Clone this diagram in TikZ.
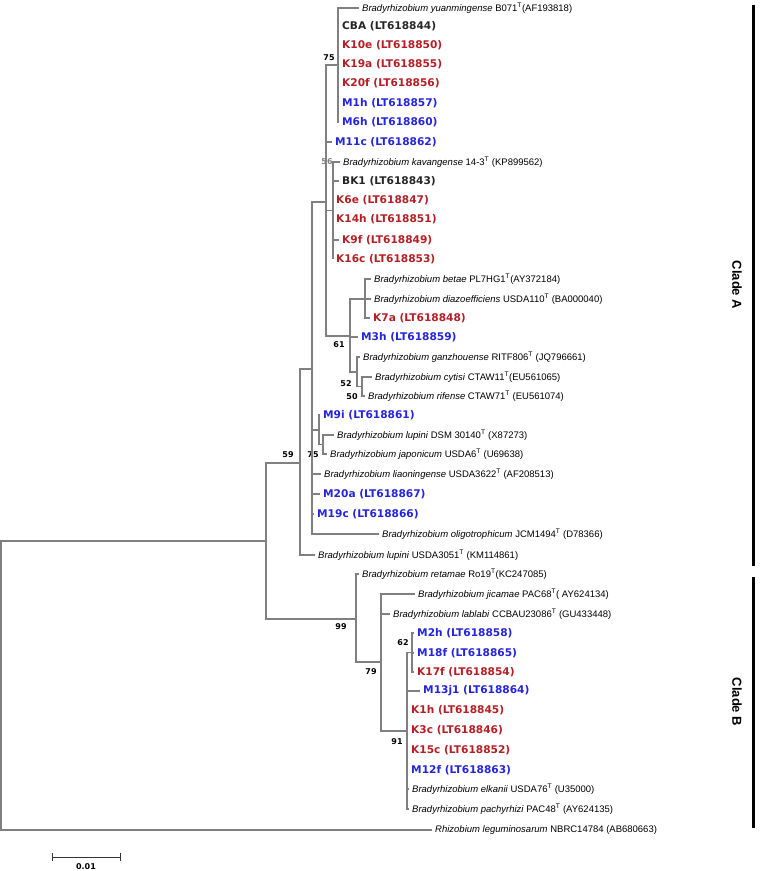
\documentclass[tikz,border=0pt]{standalone}
\usepackage{fontspec}
\setmainfont{Liberation Sans}
\newfontfamily\cepafont{DejaVu Sans}
\usepackage{tikz}
\usetikzlibrary{positioning}
\usepackage{xcolor}
\definecolor{rojo}{RGB}{182,30,36}
\definecolor{azul}{RGB}{36,36,222}
\definecolor{gris}{RGB}{128,128,128}

\begin{document}
\begin{tikzpicture}[x=1pt, y=-1pt,
		every node/.style={text=black, inner xsep=3pt, inner ysep=1pt},
		hoja/.style={anchor=west, font=\fontsize{9.5}{10}\selectfont},
		cepa/.style={anchor=west, font=\cepafont\bfseries\fontsize{10.6}{11}\selectfont},
		cepaR/.style={cepa, text=rojo},
		cepaA/.style={cepa, text=azul},
		cepaN/.style={cepa, text=black!85},
		boot/.style={font=\cepafont\bfseries\fontsize{8}{9}\selectfont, inner sep=0pt},
		rama/.style={draw=gris, line width=1.3pt},
		clado/.style={draw=black, line width=3pt}
		]
		\useasboundingbox (0,0) rectangle (777,871);
		
		% Nodos internos
		\coordinate (raiz) at (1,685.5);
		\coordinate (ing) at (266,541);
		\coordinate (n59) at (300,463);
		\coordinate (nbig) at (312,369);
		\coordinate (nx) at (326,202);
		\coordinate (n75) at (338,65);
		\coordinate (n56) at (333,210.5);
		\coordinate (n61) at (350,336);
		\coordinate (nbet) at (365,299);
		\coordinate (n52) at (357,372);
		\coordinate (n50) at (362,386.5);
		\coordinate (nm9i) at (319,430);
		\coordinate (n75b) at (323,444.5);
		\coordinate (n99) at (356,619);
		\coordinate (n79) at (381,662);
		\coordinate (n91) at (407,731);
		\coordinate (n62) at (412,652.5);
		
		% Hojas del clado A
		\node[hoja] (yuan) at (359,8) {\textit{Bradyrhizobium yuanmingense} B071\textsuperscript{T}(AF193818)};
		\node[cepaN] (cba) at (339,26) {CBA (LT618844)};
		\node[cepaR] (k10e) at (339,45) {K10e (LT618850)};
		\node[cepaR] (k19a) at (339,64) {K19a (LT618855)};
		\node[cepaR] (k20f) at (339,83) {K20f (LT618856)};
		\node[cepaA] (m1h) at (339,103) {M1h (LT618857)};
		\node[cepaA] (m6h) at (339,122) {M6h (LT618860)};
		\node[cepaA] (m11c) at (332,142) {M11c (LT618862)};
		\node[hoja] (kav) at (340,162) {\textit{Bradyrhizobium kavangense} 14-3\textsuperscript{T} (KP899562)};
		\node[cepaN] (bk1) at (339,181) {BK1 (LT618843)};
		\node[cepaR] (k6e) at (333,200) {K6e (LT618847)};
		\node[cepaR] (k14h) at (333,219) {K14h (LT618851)};
		\node[cepaR] (k9f) at (339,240) {K9f (LT618849)};
		\node[cepaR] (k16c) at (333,259) {K16c (LT618853)};
		\node[hoja] (betae) at (371,279) {\textit{Bradyrhizobium betae} PL7HG1\textsuperscript{T}(AY372184)};
		\node[hoja] (diazo) at (371,299) {\textit{Bradyrhizobium diazoefficiens} USDA110\textsuperscript{T} (BA000040)};
		\node[cepaR] (k7a) at (370,318) {K7a (LT618848)};
		\node[cepaA] (m3h) at (358,337) {M3h (LT618859)};
		\node[hoja] (ganz) at (360,357) {\textit{Bradyrhizobium ganzhouense} RITF806\textsuperscript{T} (JQ796661)};
		\node[hoja] (cytisi) at (372,377) {\textit{Bradyrhizobium cytisi} CTAW11\textsuperscript{T}(EU561065)};
		\node[hoja] (rifense) at (365,396) {\textit{Bradyrhizobium rifense} CTAW71\textsuperscript{T} (EU561074)};
		\node[cepaA] (m9i) at (320,415) {M9i (LT618861)};
		\node[hoja] (lupdsm) at (334,435) {\textit{Bradyrhizobium lupini} DSM 30140\textsuperscript{T} (X87273)};
		\node[hoja] (japon) at (327,454) {\textit{Bradyrhizobium japonicum} USDA6\textsuperscript{T} (U69638)};
		\node[hoja] (liao) at (321,474) {\textit{Bradyrhizobium liaoningense} USDA3622\textsuperscript{T} (AF208513)};
		\node[cepaA] (m20a) at (320,494) {M20a (LT618867)};
		\node[cepaA] (m19c) at (314,514) {M19c (LT618866)};
		\node[hoja] (oligo) at (379,534) {\textit{Bradyrhizobium oligotrophicum} JCM1494\textsuperscript{T} (D78366)};
		\node[hoja] (lupusda) at (315,555) {\textit{Bradyrhizobium lupini} USDA3051\textsuperscript{T} (KM114861)};
		
		% Hojas del clado B
		\node[hoja] (retamae) at (359,574) {\textit{Bradyrhizobium retamae} Ro19\textsuperscript{T}(KC247085)};
		\node[hoja] (jicamae) at (415,594) {\textit{Bradyrhizobium jicamae} PAC68\textsuperscript{T}( AY624134)};
		\node[hoja] (lablabi) at (390,614) {\textit{Bradyrhizobium lablabi} CCBAU23086\textsuperscript{T} (GU433448)};
		\node[cepaA] (m2h) at (414,633) {M2h (LT618858)};
		\node[cepaA] (m18f) at (414,653) {M18f (LT618865)};
		\node[cepaR] (k17f) at (414,672) {K17f (LT618854)};
		\node[cepaA] (m13j1) at (420,691) {M13j1 (LT618864)};
		\node[cepaR] (k1h) at (408,710) {K1h (LT618845)};
		\node[cepaR] (k3c) at (408,730) {K3c (LT618846)};
		\node[cepaR] (k15c) at (408,750) {K15c (LT618852)};
		\node[cepaA] (m12f) at (408,770) {M12f (LT618863)};
		\node[hoja] (elkanii) at (409,789) {\textit{Bradyrhizobium elkanii} USDA76\textsuperscript{T} (U35000)};
		\node[hoja] (pachy) at (409,809) {\textit{Bradyrhizobium pachyrhizi} PAC48\textsuperscript{T} (AY624135)};
		
		% Grupo externo
		\node[hoja] (rhizo) at (432,830) {\textit{Rhizobium leguminosarum} NBRC14784 (AB680663)};
		
		% Valores de bootstrap
		\node[boot] (b75) at (329,58) {75};
		\node[boot, text=gris] (b56) at (327,162) {56};
		\node[boot] (b61) at (339,345) {61};
		\node[boot] (b52) at (346,384) {52};
		\node[boot] (b50) at (352,397) {50};
		\node[boot] (b75b) at (313,455) {75};
		\node[boot] (b59) at (288,455) {59};
		\node[boot] (b99) at (341,627) {99};
		\node[boot] (b79) at (371,672) {79};
		\node[boot] (b62) at (403,643) {62};
		\node[boot] (b91) at (397,742) {91};
		
		% ramas principales
		\draw[rama] (raiz) |- (ing);
		\draw[rama] (raiz) |- (rhizo.west);
		\draw[rama] (ing) |- (n59);
		\draw[rama] (ing) |- (n99);
		\draw[rama] (n59) |- (nbig);
		\draw[rama] (n59) |- (lupusda.west);
		
		% ramas del clado A
		\draw[rama] (nbig) |- (nx);
		\draw[rama] (nbig) |- (nm9i);
		\draw[rama] (nbig) |- (liao.west);
		\draw[rama] (nbig) |- (m20a.west);
		\draw[rama] (nbig) |- (m19c.west);
		\draw[rama] (nbig) |- (oligo.west);
		\draw[rama] (nx) |- (n75);
		\draw[rama] (nx) |- (m11c.west);
		\draw[rama] (nx) |- (n56);
		\draw[rama] (nx) |- (n61);
		\draw[rama] (n75) |- (yuan.west);
		\draw[rama] (n75) |- (cba.west);
		\draw[rama] (n75) |- (k10e.west);
		\draw[rama] (n75) |- (k19a.west);
		\draw[rama] (n75) |- (k20f.west);
		\draw[rama] (n75) |- (m1h.west);
		\draw[rama] (n75) |- (m6h.west);
		\draw[rama] (n56) |- (kav.west);
		\draw[rama] (n56) |- (bk1.west);
		\draw[rama] (n56) |- (k6e.west);
		\draw[rama] (n56) |- (k14h.west);
		\draw[rama] (n56) |- (k9f.west);
		\draw[rama] (n56) |- (k16c.west);
		\draw[rama] (n61) |- (nbet);
		\draw[rama] (n61) |- (m3h.west);
		\draw[rama] (n61) |- (n52);
		\draw[rama] (nbet) |- (betae.west);
		\draw[rama] (nbet) |- (diazo.west);
		\draw[rama] (nbet) |- (k7a.west);
		\draw[rama] (n52) |- (ganz.west);
		\draw[rama] (n52) |- (n50);
		\draw[rama] (n50) |- (cytisi.west);
		\draw[rama] (n50) |- (rifense.west);
		\draw[rama] (nm9i) |- (m9i.west);
		\draw[rama] (nm9i) |- (n75b);
		\draw[rama] (n75b) |- (lupdsm.west);
		\draw[rama] (n75b) |- (japon.west);
		
		% ramas del clado B
		\draw[rama] (n99) |- (retamae.west);
		\draw[rama] (n99) |- (n79);
		\draw[rama] (n79) |- (jicamae.west);
		\draw[rama] (n79) |- (lablabi.west);
		\draw[rama] (n79) |- (n91);
		\draw[rama] (n91) |- (n62);
		\draw[rama] (n91) |- (m13j1.west);
		\draw[rama] (n91) |- (k1h.west);
		\draw[rama] (n91) |- (k3c.west);
		\draw[rama] (n91) |- (k15c.west);
		\draw[rama] (n91) |- (m12f.west);
		\draw[rama] (n91) |- (elkanii.west);
		\draw[rama] (n91) |- (pachy.west);
		\draw[rama] (n62) |- (m2h.west);
		\draw[rama] (n62) |- (m18f.west);
		\draw[rama] (n62) |- (k17f.west);
		
		% clados
		\coordinate (cA1) at (753,5);
		\coordinate (cA2) at (753,566);
		\coordinate (cB1) at (753,577);
		\coordinate (cB2) at (753,828);
		\draw[clado] (cA1) -- (cA2);
		\draw[clado] (cB1) -- (cB2);
		\node[rotate=-90, font=\bfseries\fontsize{13}{14}\selectfont] (cladoA) at (737,285) {Clade A};
		\node[rotate=-90, font=\bfseries\fontsize{13}{14}\selectfont] (cladoB) at (737,702) {Clade B};
		
		% escala
		\coordinate (esc1) at (52,857);
		\coordinate (esc2) at (121,857);
		\draw[|-|, line width=0.9pt, black!80] (esc1) -- (esc2);
		\node[boot] (escala) at (86,867) {0.01};
		
	\end{tikzpicture}
\end{document}
